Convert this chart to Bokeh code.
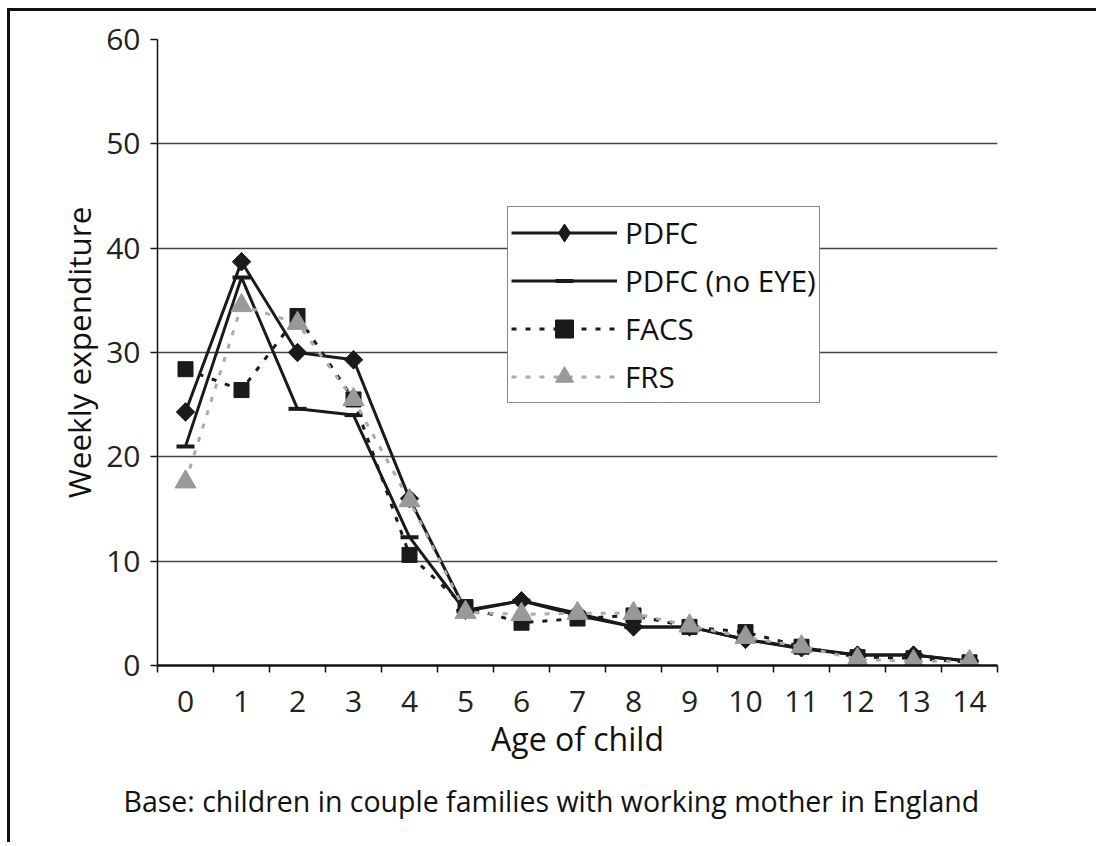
import math
from bokeh.plotting import figure
from bokeh.models import FixedTicker, Legend, LegendItem, Title, Range1d
from bokeh.embed import file_html
from bokeh.resources import INLINE

ages = list(range(15))
age_labels = [str(a) for a in ages]
pdfc = [24.3, 38.7, 30.0, 29.3, 16.0, 5.3, 6.2, 5.0, 3.7, 3.7, 2.5, 1.7, 1.0, 1.0, 0.4]
pdfc_no_eye = [21.0, 37.2, 24.6, 24.0, 12.3, 5.2, 6.2, 4.8, 3.7, 3.7, 2.5, 1.6, 1.0, 1.0, 0.4]
facs = [28.4, 26.4, 33.5, 25.5, 10.6, 5.6, 4.1, 4.5, 4.8, 3.7, 3.2, 1.8, 0.8, 0.7, 0.3]
frs = [17.6, 34.5, 32.8, 25.5, 15.8, 5.1, 4.9, 5.0, 5.0, 3.8, 2.7, 1.8, 0.6, 0.4, 0.4]
y_ticks = [0, 10, 20, 30, 40, 50, 60]

FONT = "Open Sans"

p = figure(width=1089, height=834, output_backend="svg", toolbar_location=None,
           x_range=Range1d(-0.5, 14.5), y_range=Range1d(0, 60),
           min_border_left=147, min_border_right=102, min_border_top=28,
           min_border_bottom=180)
p.outline_line_color = None
p.styles = {"border-top": "3px solid #111111", "border-left": "3px solid #111111",
            "margin-top": "8px", "margin-left": "7px"}

# axes
p.xaxis.ticker = FixedTicker(ticks=ages, minor_ticks=[a - 0.5 for a in ages] + [14.5])
p.xaxis.major_label_overrides = {a: l for a, l in zip(ages, age_labels)}
p.xaxis.major_tick_line_color = None
p.xaxis.minor_tick_line_color = "#111111"
p.xaxis.minor_tick_line_width = 1.5
p.xaxis.minor_tick_out = 7
p.xaxis.minor_tick_in = 0
p.xaxis.axis_line_width = 2.5
p.xaxis.axis_line_color = "#111111"
p.xaxis.major_label_text_font = FONT
p.xaxis.major_label_text_font_size = "30px"
p.xaxis.major_label_text_color = "#222222"
p.xaxis.major_label_standoff = 18
p.xaxis.axis_label = "Age of child"
p.xaxis.axis_label_text_font = FONT
p.xaxis.axis_label_text_font_style = "normal"
p.xaxis.axis_label_text_font_size = "32px"
p.xaxis.axis_label_text_color = "#111111"
p.xaxis.axis_label_standoff = 2

p.yaxis.ticker = FixedTicker(ticks=y_ticks)
p.yaxis.minor_tick_line_color = None
p.yaxis.major_tick_out = 7
p.yaxis.major_tick_in = 0
p.yaxis.major_tick_line_width = 1.5
p.yaxis.major_tick_line_color = "#111111"
p.yaxis.axis_line_width = 1.5
p.yaxis.axis_line_color = "#111111"
p.yaxis.major_label_text_font = FONT
p.yaxis.major_label_text_font_size = "30px"
p.yaxis.major_label_text_color = "#222222"
p.yaxis.major_label_standoff = 10
p.yaxis.axis_label = "Weekly expenditure"
p.yaxis.axis_label_text_font = FONT
p.yaxis.axis_label_text_font_style = "normal"
p.yaxis.axis_label_text_font_size = "31.5px"
p.yaxis.axis_label_text_color = "#111111"
p.yaxis.axis_label_standoff = 3

p.xgrid.grid_line_color = None
p.ygrid.ticker = FixedTicker(ticks=y_ticks)
p.ygrid.grid_line_color = "#444444"
p.ygrid.grid_line_width = 1.5

# series
l1 = p.line(ages, pdfc, line_color="#1a1a1a", line_width=3)
# diamond glyph used for the legend swatch (covered in the plot by the rotated squares)
m1_leg = p.scatter(ages, pdfc, marker="diamond", size=18,
                   fill_color="#1a1a1a", line_color="#1a1a1a")
m1 = p.scatter(ages, pdfc, marker="square", size=13, angle=math.pi / 4,
               fill_color="#1a1a1a", line_color="#1a1a1a")
l2 = p.line(ages, pdfc_no_eye, line_color="#1a1a1a", line_width=3)
m2 = p.scatter(ages, pdfc_no_eye, marker="dash", size=18, line_color="#1a1a1a", line_width=4)
l3 = p.line(ages, facs, line_color="#1a1a1a", line_width=3, line_dash="5 9")
m3 = p.scatter(ages, facs, marker="square", size=15, fill_color="#1a1a1a", line_color="#1a1a1a")
l4 = p.line(ages, frs, line_color="#aaaaaa", line_width=3, line_dash="5 9")
m4 = p.scatter(ages, frs, marker="triangle", size=21, fill_color="#999999", line_color="#999999")

legend = Legend(items=[
    LegendItem(label="PDFC", renderers=[l1, m1_leg]),
    LegendItem(label="PDFC (no EYE)", renderers=[l2, m2]),
    LegendItem(label="FACS", renderers=[l3, m3]),
    LegendItem(label="FRS", renderers=[l4, m4]),
], location=(350, 262))
legend.label_text_font = FONT
legend.label_text_font_size = "29.5px"
legend.label_text_color = "#111111"
legend.glyph_width = 106
legend.glyph_height = 45
legend.label_height = 45
legend.label_standoff = 8
legend.spacing = 3
legend.padding = 3
legend.margin = 0
legend.border_line_color = "#111111"
legend.border_line_width = 1.5
legend.background_fill_alpha = 1
p.add_layout(legend, "center")

cap = Title(text="Base: children in couple families with working mother in England",
            align="left", offset=-34, text_font=FONT, text_font_size="28.5px",
            text_font_style="normal", text_color="#111111", standoff=34)
p.add_layout(cap, "below")

open("out.html", "w").write(file_html(p, INLINE))
